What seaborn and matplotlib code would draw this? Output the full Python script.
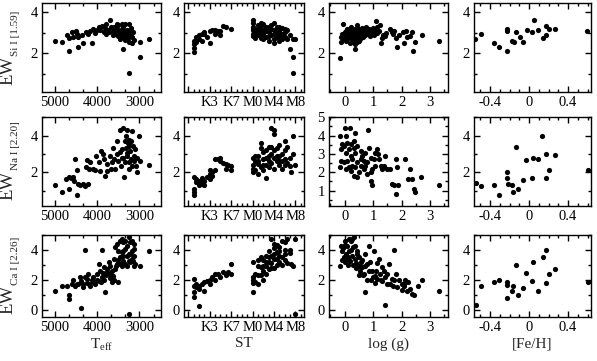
import pandas as pd
import matplotlib
matplotlib.use("Agg")
import matplotlib.pyplot as plt
import seaborn as sns
from matplotlib.ticker import FixedLocator, MultipleLocator, FixedFormatter

sns.set_style("ticks")
plt.rcParams['font.family'] = ['Liberation Serif', 'DejaVu Serif']
plt.rcParams['mathtext.fontset'] = 'custom'
plt.rcParams['mathtext.rm'] = 'Liberation Serif'
plt.rcParams['mathtext.it'] = 'Liberation Serif:italic'

# --- data: (x, EW) pairs per panel ---
# spectral type axis: K(n) -> n - 11, M(n) -> n
si_teff = [(5000, 2.59), (4840, 2.56), (4680, 2.10), (4720, 2.90), (4660, 2.76), (4600, 3.04), (4570, 2.80),
           (4500, 3.08), (4480, 2.96), (4450, 2.32), (4450, 2.77), (4370, 2.88), (4330, 2.50), (4260, 3.04),
           (4230, 2.93), (4170, 3.08), (4130, 2.50), (4090, 3.20), (4050, 3.00), (4010, 3.15), (3970, 3.28),
           (3930, 3.12), (3890, 3.31), (3850, 3.04), (3810, 3.25), (3790, 3.40), (3750, 3.15), (3700, 3.60),
           (3670, 3.30), (3630, 3.10), (3600, 3.28), (3580, 2.96), (3540, 3.20), (3520, 2.83), (3500, 3.36),
           (3470, 3.04), (3460, 2.72), (3440, 3.15), (3420, 2.96), (3400, 3.28), (3390, 2.19), (3380, 2.80),
           (3360, 3.04), (3340, 3.44), (3340, 2.64), (3320, 2.88), (3300, 3.15), (3290, 2.72), (3260, 3.04),
           (3260, 1.04), (3250, 3.44), (3240, 2.56), (3220, 2.88), (3210, 3.25), (3180, 2.77), (3180, 2.50),
           (3160, 3.04), (3140, 2.67), (2980, 2.56), (2980, 1.81), (2770, 2.69), (3580, 3.15), (3500, 3.10),
           (3440, 2.93), (3390, 3.10), (3360, 2.77), (3320, 3.04), (3280, 2.93), (3240, 2.80), (3200, 2.99),
           (3540, 3.41), (3420, 3.40), (3620, 2.88), (3790, 2.96), (3730, 3.04)]
si_st = [(-11, 2.08), (-11, 2.25), (-11, 2.45), (-11, 2.62), (-10.5, 2.78), (-10.5, 2.55), (-10, 2.88),
         (-10, 2.70), (-9.5, 2.96), (-9.5, 2.62), (-9, 2.92), (-9, 3.04), (-8.5, 2.80), (-8, 2.48), (-8, 3.06),
         (-7.5, 3.12), (-7, 2.95), (-7, 3.15), (-6.5, 3.10), (-6, 2.88), (-6, 3.08), (-5.5, 3.31), (-5, 3.28),
         (-4, 3.20), (0, 3.60), (0, 3.45), (0, 3.30), (0, 3.12), (0, 2.96), (0, 2.85), (0.5, 3.20), (0.5, 3.00),
         (1, 3.35), (1, 3.10), (1, 2.90), (1.5, 3.25), (1.5, 3.00), (1.5, 2.75), (2, 3.40), (2, 3.15), (2, 2.95),
         (2.5, 3.10), (2.5, 2.80), (3, 3.30), (3, 3.05), (3, 2.60), (3.5, 3.20), (3.5, 2.90), (4, 3.45),
         (4, 3.15), (4, 2.95), (4, 2.70), (4.5, 3.30), (4.5, 3.00), (5, 3.10), (5, 2.85), (5, 2.60), (5.5, 3.25),
         (5.5, 2.95), (6, 3.05), (6, 2.80), (6.5, 3.15), (6.5, 2.70), (7, 2.90), (7, 2.19), (7.5, 2.72),
         (7.5, 1.81), (7.5, 1.04), (8, 2.70), (0, 3.20), (0.5, 2.75), (1, 3.20), (2, 2.70), (3, 2.85),
         (3.5, 3.35), (4.5, 2.80), (5, 3.30), (6, 3.20), (2.5, 3.30), (1.5, 3.45), (4, 2.50), (5.5, 2.70)]
si_logg = [(-0.16, 1.80), (-0.06, 3.44), (-0.14, 2.80), (-0.12, 2.55), (-0.10, 2.95), (-0.05, 2.70), (0.00, 3.05),
           (0.03, 2.85), (0.05, 2.60), (0.08, 3.20), (0.10, 2.95), (0.12, 2.75), (0.15, 3.10), (0.18, 2.50),
           (0.20, 2.90), (0.22, 3.30), (0.25, 3.00), (0.28, 2.65), (0.30, 3.15), (0.32, 2.85), (0.35, 2.45),
           (0.38, 2.20), (0.40, 3.05), (0.42, 2.75), (0.45, 3.35), (0.48, 2.95), (0.50, 3.20), (0.52, 2.60),
           (0.55, 3.05), (0.58, 2.85), (0.60, 3.25), (0.62, 3.00), (0.65, 2.80), (0.70, 3.15), (0.72, 2.90),
           (0.75, 3.30), (0.80, 3.10), (0.82, 2.95), (0.85, 3.20), (0.90, 2.85), (0.95, 3.05), (1.00, 3.25),
           (1.02, 2.90), (1.05, 3.15), (1.10, 3.57), (1.12, 3.00), (1.15, 3.30), (1.20, 3.10), (1.25, 3.35),
           (1.28, 2.50), (1.30, 2.75), (1.35, 2.90), (1.40, 2.85), (1.45, 3.00), (1.60, 3.20), (1.65, 3.05),
           (1.70, 2.95), (1.75, 3.10), (1.80, 2.75), (1.84, 2.30), (1.90, 2.90), (2.05, 3.05), (2.10, 2.50),
           (2.15, 3.10), (2.20, 2.80), (2.30, 2.85), (2.35, 3.05), (2.40, 2.10), (2.48, 2.55), (2.70, 2.88),
           (3.30, 2.60), (0.05, 3.10), (0.15, 2.80), (0.25, 2.70), (0.35, 3.20), (0.45, 2.55), (0.55, 2.70),
           (0.65, 3.10), (0.40, 2.90), (0.60, 2.90), (0.30, 2.55)]
si_feh = [(-0.554, 2.72), (-0.497, 2.96), (-0.357, 2.51), (-0.306, 2.32), (-0.231, 2.13), (-0.224, 3.20),
          (-0.224, 3.07), (-0.180, 2.59), (-0.156, 2.56), (-0.130, 3.04), (-0.095, 2.80), (-0.061, 2.53),
          (-0.020, 3.12), (0.034, 3.04), (0.048, 3.60), (0.092, 3.12), (0.143, 2.75), (0.177, 2.88),
          (0.170, 3.31), (0.204, 3.20), (0.262, 3.20), (0.595, 3.07)]

na_teff = [(5000, 1.32), (4840, 0.93), (4680, 1.07), (4740, 1.64), (4680, 1.73), (4630, 1.68), (4570, 1.73),
           (4550, 1.50), (4530, 2.75), (4490, 2.13), (4470, 0.79), (4450, 1.38), (4410, 1.29), (4330, 1.38),
           (4290, 1.25), (4230, 1.38), (4260, 2.27), (4250, 2.66), (4170, 2.54), (4190, 2.20), (4110, 2.18),
           (4050, 2.13), (4030, 2.90), (3970, 2.54), (3930, 2.09), (3910, 3.16), (3870, 2.98), (3840, 2.71),
           (3810, 1.82), (3770, 2.09), (3760, 2.45), (3710, 2.90), (3680, 2.18), (3660, 2.54), (3620, 3.34),
           (3600, 2.71), (3580, 2.20), (3540, 3.70), (3540, 2.98), (3500, 2.63), (3470, 4.32), (3460, 3.10),
           (3440, 2.36), (3420, 2.80), (3380, 4.41), (3360, 1.73), (3340, 3.70), (3340, 2.54), (3320, 3.34),
           (3300, 4.32), (3290, 2.89), (3260, 2.18), (3240, 3.61), (3240, 2.54), (3220, 3.16), (3210, 2.75),
           (3180, 4.23), (3180, 2.36), (3160, 3.43), (3140, 2.89), (3130, 2.63), (3100, 3.25), (3080, 2.36),
           (3060, 2.00), (3050, 2.80), (3000, 3.96), (2980, 2.63), (2770, 2.39), (3420, 3.25), (3300, 3.07),
           (3380, 2.80), (3260, 3.43), (3210, 3.70), (3320, 3.96), (3280, 3.60), (3240, 3.75)]
na_st = [(-11, 0.75), (-11, 0.93), (-11, 1.10), (-11, 1.73), (-10.5, 1.46), (-10.5, 1.64), (-10, 1.30),
         (-10, 1.55), (-9.5, 1.38), (-9.5, 1.70), (-9, 1.30), (-9, 1.50), (-8.5, 1.73), (-8, 2.10), (-8, 1.91),
         (-8, 1.64), (-7.5, 2.00), (-7.5, 1.80), (-7, 2.71), (-7, 2.14), (-6.5, 2.70), (-6, 2.80), (-6, 2.60),
         (-5.5, 2.50), (-5, 2.18), (-5, 2.45), (-4.5, 2.40), (-4, 2.10), (-4, 2.35), (0, 2.80), (0, 2.40),
         (0, 2.20), (0, 2.00), (0.5, 2.60), (0.5, 2.15), (1, 2.45), (1, 1.90), (1, 2.90), (1.5, 3.30),
         (1.5, 2.30), (1.5, 3.60), (2, 2.10), (2, 2.70), (2, 3.10), (2.5, 1.70), (2.5, 2.40), (2.5, 3.20),
         (3, 2.90), (3, 2.30), (3, 3.40), (3.5, 4.40), (3.5, 2.50), (3.5, 3.00), (4, 4.30), (4, 4.10), (4, 2.80),
         (4, 2.20), (4.5, 3.30), (4.5, 2.60), (5, 3.50), (5, 2.40), (5, 2.90), (5.5, 3.00), (5.5, 2.20),
         (6, 3.70), (6, 2.70), (6, 3.20), (6.5, 2.50), (6.5, 3.40), (7, 2.36), (7, 2.80), (7.5, 4.00),
         (7.5, 3.00), (7.2, 2.00), (8, 2.40), (0.5, 2.90), (1, 2.60), (2, 2.40), (3, 2.60), (4, 3.20),
         (4.5, 2.90), (5, 2.60), (6, 2.40), (2.5, 2.80), (3.5, 3.40), (5.5, 2.60)]
na_logg = [(-0.16, 3.96), (0.00, 4.41), (0.19, 4.41), (0.38, 4.14), (-0.14, 2.63), (-0.16, 2.27), (-0.08, 3.52),
           (-0.02, 3.43), (0.03, 3.07), (0.09, 3.61), (0.15, 3.25), (0.21, 2.89), (0.27, 2.71), (0.33, 3.70),
           (0.33, 3.34), (0.38, 3.07), (0.44, 2.54), (0.50, 2.00), (0.56, 2.36), (0.62, 2.89), (0.67, 2.18),
           (0.73, 3.07), (0.79, 2.54), (0.85, 3.34), (0.91, 2.00), (0.93, 2.80), (0.81, 4.32), (1.08, 3.07),
           (1.14, 3.25), (1.20, 2.71), (1.26, 2.36), (1.31, 2.18), (0.91, 1.55), (0.97, 1.29), (1.16, 2.98),
           (1.37, 2.36), (1.43, 2.89), (1.49, 2.18), (1.60, 2.18), (1.66, 1.38), (1.72, 1.29), (1.81, 2.71),
           (1.84, 2.27), (1.81, 0.84), (1.87, 1.29), (2.13, 2.71), (2.24, 1.64), (2.30, 2.18), (2.36, 1.64),
           (2.42, 1.11), (2.48, 0.93), (2.69, 1.73), (3.31, 1.32), (-0.02, 2.54), (0.03, 2.18), (0.09, 2.63),
           (0.15, 2.27), (0.21, 2.09), (0.27, 2.36), (0.33, 1.82), (0.38, 2.27), (0.44, 1.73), (0.56, 2.71),
           (0.67, 2.63), (1.02, 2.71), (1.08, 2.36), (0.97, 2.18), (0.79, 1.91), (-0.14, 3.25), (0.03, 3.96),
           (0.21, 3.52), (0.44, 3.43), (0.56, 3.16), (0.73, 2.36)]
na_feh = [(-0.544, 1.41), (-0.497, 1.25), (-0.357, 1.32), (-0.306, 0.79), (-0.224, 2.00), (-0.231, 1.68),
          (-0.214, 1.38), (-0.180, 1.29), (-0.170, 0.93), (-0.136, 3.38), (-0.112, 1.07), (-0.061, 1.59),
          (-0.027, 2.66), (0.034, 1.68), (0.041, 2.77), (0.092, 2.75), (0.136, 3.96), (0.170, 3.02),
          (0.177, 1.68), (0.204, 2.14), (0.262, 2.95), (0.602, 2.14)]

ca_teff = [(5000, 1.24), (4840, 1.62), (4720, 1.62), (4680, 0.96), (4680, 0.73), (4570, 1.96), (4530, 1.62),
           (4490, 1.73), (4410, 2.18), (4390, 0.13), (4330, 1.73), (4330, 1.51), (4290, 2.18), (4250, 2.07),
           (4290, 4.02), (4210, 2.40), (4170, 1.62), (4130, 1.96), (4090, 2.18), (4050, 1.73), (4010, 2.40),
           (3970, 3.07), (3930, 2.62), (3890, 4.02), (3890, 2.18), (3850, 1.96), (3840, 2.84), (3810, 1.18),
           (3770, 2.73), (3730, 3.18), (3700, 2.40), (3660, 1.84), (3620, 2.29), (3580, 2.73), (3540, 3.07),
           (3500, 1.84), (3500, 3.96), (3580, 4.18), (3540, 4.40), (3460, 3.51), (3420, 3.84), (3380, 3.29),
           (3340, 3.07), (3300, 4.29), (3260, 4.84), (3220, 4.51), (3180, 3.96), (3160, 3.29), (3140, 2.96),
           (3130, 4.40), (3260, -0.27), (2980, 2.96), (2770, 3.96), (3460, 4.62), (3420, 4.73), (3380, 4.51),
           (3340, 4.62), (3300, 3.62), (3260, 3.29), (3220, 3.73), (3180, 4.62), (3140, 3.62), (3100, 3.07),
           (3460, 3.07), (3420, 2.96), (3380, 3.96), (3340, 4.07), (3300, 2.96), (3260, 3.73), (3220, 3.18),
           (3180, 3.40), (3120, 4.07), (3400, 3.60), (3500, 3.30), (3550, 2.90), (3600, 3.40), (3650, 2.60),
           (3700, 2.95), (3760, 2.50), (3800, 2.30), (3870, 2.45), (3950, 1.90), (4000, 2.00), (4100, 1.85),
           (4200, 1.70), (4450, 1.75), (4600, 1.70), (4380, 1.95), (4250, 1.80), (3900, 1.85), (3700, 2.10),
           (3600, 2.00)]
ca_st = [(-11, 2.07), (-11, 1.18), (-11, 0.84), (-11, 1.62), (-10.5, 1.50), (-10.5, 1.75), (-10, 1.62),
         (-10, 0.27), (-10, 1.40), (-9.5, 1.70), (-9, 1.84), (-9, 1.29), (-8.5, 1.95), (-8, 2.00), (-8, 1.70),
         (-7.5, 2.20), (-7, 2.40), (-7, 1.96), (-6.5, 2.40), (-6, 2.20), (-5.5, 2.50), (-5, 2.30), (-4.5, 2.50),
         (-4, 3.07), (-4, 2.40), (0, 1.18), (0, 2.00), (0, 2.20), (0, 3.18), (0, 1.80), (0.5, 1.84), (0.5, 2.40),
         (1, 1.73), (1, 2.30), (1, 2.90), (1.5, 2.84), (1.5, 3.50), (2, 1.96), (2, 2.60), (2, 3.30), (2.5, 2.40),
         (2.5, 3.60), (2.5, 2.90), (3, 3.20), (3, 2.70), (3, 3.96), (3.5, 4.73), (3.5, 3.10), (3.5, 3.60),
         (4, 3.40), (4, 2.80), (4, 4.10), (4, 4.40), (4.5, 3.84), (4.5, 3.00), (5, 4.20), (5, 3.60), (5, 3.20),
         (5.5, 4.60), (5.5, 3.50), (6, 4.00), (6, 3.30), (6, 4.50), (6.5, 4.73), (6.5, 3.10), (7, 3.80),
         (7, 4.00), (7.2, 3.07), (7.5, 2.96), (8, -0.27), (8, 4.70), (1, 3.30), (2, 2.90), (3, 3.50), (4, 3.70),
         (4.5, 3.40), (5, 3.90), (5.5, 3.00), (6, 3.70), (3.5, 2.80), (2.5, 3.20), (1.5, 2.30), (4.5, 4.30)]
ca_logg = [(-0.16, 2.96), (-0.14, 4.29), (-0.08, 3.96), (-0.02, 3.51), (0.00, 4.62), (0.09, 4.29), (0.15, 4.73),
           (0.21, 4.62), (0.27, 4.73), (0.33, 4.84), (0.38, 4.29), (0.44, 3.96), (0.50, 3.51), (0.56, 3.18),
           (0.62, 2.84), (0.67, 2.40), (0.73, 3.73), (0.79, 3.07), (0.85, 4.29), (0.91, 1.96), (0.97, 2.62),
           (1.02, 3.96), (1.08, 2.29), (1.14, 2.07), (1.20, 3.40), (1.26, 1.96), (1.31, 2.84), (1.37, 2.62),
           (1.43, 2.18), (1.49, 1.73), (1.55, 3.07), (1.60, 1.73), (1.66, 2.07), (1.74, 4.02), (1.81, 2.40),
           (1.84, 1.51), (1.90, 1.96), (2.01, 1.73), (2.07, 1.62), (2.13, 1.96), (2.18, 1.29), (2.24, 1.84),
           (2.30, 1.40), (2.36, 1.07), (2.42, 0.96), (2.57, 1.62), (2.71, 2.00), (3.31, 1.29), (1.40, 0.29),
           (0.73, 1.18), (0.00, 3.20), (0.05, 3.70), (0.10, 3.40), (0.10, 3.00), (0.15, 3.90), (0.20, 3.25),
           (0.25, 3.60), (0.30, 3.00), (0.30, 4.20), (0.35, 3.40), (0.40, 3.10), (0.45, 3.70), (0.50, 2.90),
           (0.55, 2.60), (0.60, 3.30), (0.65, 2.30), (0.70, 2.90), (0.80, 2.00), (0.85, 2.60), (0.90, 3.20),
           (1.00, 2.20), (1.05, 1.80), (1.10, 2.60), (1.15, 3.10), (1.25, 2.40), (1.30, 1.90), (1.50, 2.40),
           (1.70, 1.60), (1.75, 2.00), (2.00, 1.30), (2.10, 1.75), (-0.10, 3.30), (-0.05, 4.10), (0.02, 4.30),
           (0.12, 3.55), (0.22, 4.00), (0.40, 2.80), (0.50, 2.35)]
ca_feh = [(-0.548, 0.29), (-0.497, 1.62), (-0.357, 1.89), (-0.306, 2.00), (-0.224, 1.84), (-0.224, 1.69),
          (-0.224, 0.78), (-0.180, 1.29), (-0.170, 1.62), (-0.136, 3.00), (-0.112, 1.00), (-0.061, 1.47),
          (-0.027, 2.44), (0.034, 1.91), (0.041, 3.22), (0.092, 1.24), (0.143, 3.51), (0.170, 4.00),
          (0.177, 1.80), (0.204, 2.40), (0.262, 2.73), (0.602, 1.89)]

panels = [[si_teff, si_st, si_logg, si_feh],
          [na_teff, na_st, na_logg, na_feh],
          [ca_teff, ca_st, ca_logg, ca_feh]]
row_subs = ["Si I [1.59]", "Na I [2.20]", "Ca I [2.26]"]
col_labels = [r"T$_{\mathrm{eff}}$", "ST", "log (g)", "[Fe/H]"]
st_ticks = [-12, -8, -4, 0, 4, 8]
st_names = ["", "K3", "K7", "M0", "M4", "M8"]

# --- layout (pixels of a 597x361 canvas) ---
W, H = 597, 361
col_px = [(42, 161), (184, 304), (329, 448), (474, 591)]
row_px = [(2.7, 91.7), (117.3, 205.7), (235, 317.3)]
xlims = [(5310, 2490), (-12.8, 9.6), (-0.55, 3.63), (-0.565, 0.635)]
ylims = [(0.15, 4.45), (0.18, 5.0), (-0.5, 5.0)]

fig = plt.figure(figsize=(W / 100, H / 100), dpi=100)

for r in range(3):
    for c in range(4):
        x0, x1 = col_px[c]
        y0, y1 = row_px[r]
        ax = fig.add_axes([x0 / W, 1 - y1 / H, (x1 - x0) / W, (y1 - y0) / H])
        df = pd.DataFrame(panels[r][c], columns=["x", "ew"])
        sns.scatterplot(data=df, x="x", y="ew", ax=ax, color="black", s=14,
                        linewidth=0, legend=False)
        ax.set_xlim(*xlims[c])
        ax.set_ylim(*ylims[r])

        # x ticks
        if c == 0:
            ax.xaxis.set_major_locator(FixedLocator([5000, 4000, 3000]))
            ax.xaxis.set_minor_locator(MultipleLocator(1000 / 3))
        elif c == 1:
            ax.xaxis.set_major_locator(FixedLocator(st_ticks))
            ax.xaxis.set_major_formatter(FixedFormatter(st_names))
            ax.xaxis.set_minor_locator(MultipleLocator(1))
        elif c == 2:
            ax.xaxis.set_major_locator(MultipleLocator(1))
            ax.xaxis.set_minor_locator(MultipleLocator(0.5))
        else:
            ax.xaxis.set_major_locator(FixedLocator([-0.4, 0, 0.4]))
            ax.xaxis.set_major_formatter(FixedFormatter(["-0.4", "0", "0.4"]))
            ax.xaxis.set_minor_locator(MultipleLocator(0.1))

        # y ticks
        if r == 1 and c == 2:
            ax.yaxis.set_major_locator(MultipleLocator(1))
            ax.yaxis.set_minor_locator(MultipleLocator(0.5))
        elif r == 2:
            ax.yaxis.set_major_locator(FixedLocator([0, 2, 4]))
            ax.yaxis.set_minor_locator(MultipleLocator(1))
        else:
            ax.yaxis.set_major_locator(FixedLocator([2, 4]))
            ax.yaxis.set_minor_locator(MultipleLocator(1))

        ax.tick_params(which="both", direction="in", top=True, right=True,
                       width=1, colors="black", labelsize=10.5, pad=3)
        ax.tick_params(which="major", length=4)
        ax.tick_params(which="minor", length=2.2)
        for s in ax.spines.values():
            s.set_linewidth(1)
            s.set_color("black")

        ax.set_xlabel("")
        ax.set_ylabel("")
        if c == 0:
            # "EW" plus a small subscript, stacked along the rotated label
            h = y1 - y0
            ax.text(-0.285, 0.5 - 38 / h, "EW", rotation=90, fontsize=13.5,
                    ha="center", va="bottom", transform=ax.transAxes)
            ax.text(-0.225, 0.5 - 9 / h, row_subs[r], rotation=90, fontsize=8,
                    ha="center", va="bottom", transform=ax.transAxes)
        if r == 2:
            ax.set_xlabel(col_labels[c], fontsize=11)
            ax.xaxis.set_label_coords(0.5, -0.24)

fig.savefig("out.png", dpi=100)
